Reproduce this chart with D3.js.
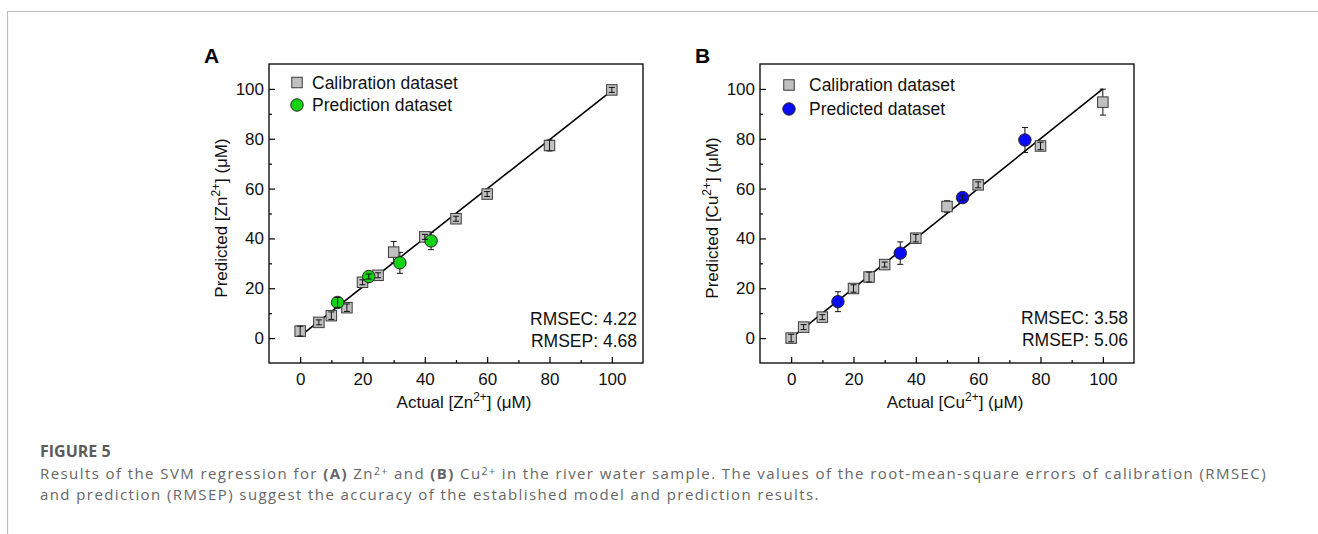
<!doctype html>
<html lang="en">
<head>
<meta charset="utf-8">
<title>Figure 5 - SVM regression</title>
<style>
  body { margin: 0; background: #fff; }
  svg { display: block; }
</style>
</head>
<body>
<svg width="1318" height="534"></svg>
<script src="https://cdn.jsdelivr.net/npm/d3@7/dist/d3.min.js"></script>
<script>
// ---- data ----
// panel A: Zn2+
var znCalX   = [0, 6, 10, 15, 20, 25, 30, 40, 50, 60, 80, 100];
var znCalY   = [2.8, 6.3, 9.0, 12.2, 22.4, 25.2, 34.5, 40.6, 47.9, 57.8, 77.3, 99.6];
var znCalErr = [2, 1, 1.5, 1.5, 1, 1, 4.3, 1, 1, 1, 2.2, 1];
var znPreX   = [12, 22, 32, 42];
var znPreY   = [14.3, 24.7, 30.2, 39.0];
var znPreErr = [2, 1, 4.2, 3.5];
var znFit    = [0.8, 0.985];          // intercept, slope
var znStats  = ['RMSEC: 4.22', 'RMSEP: 4.68'];

// panel B: Cu2+
var cuCalX   = [0, 4, 10, 20, 25, 30, 40, 50, 60, 80, 100];
var cuCalY   = [0, 4.4, 8.4, 19.9, 24.5, 29.5, 40.1, 52.8, 61.5, 77.1, 94.7];
var cuCalErr = [1.5, 1, 1, 1.5, 2, 1, 1.5, 2.3, 1.2, 1.5, 5.2];
var cuPreX   = [15, 35, 55, 75];
var cuPreY   = [14.6, 34.1, 56.4, 79.5];
var cuPreErr = [4, 4.5, 1, 5];
var cuFit    = [0, 1];
var cuStats  = ['RMSEC: 3.58', 'RMSEP: 5.06'];

var majorTicks = [0, 20, 40, 60, 80, 100];
var minorTicks = [10, 30, 50, 70, 90];
var axisDomain = [-10, 110];

var svg = d3.select('svg');
var FONT = '"Liberation Sans", Arial, Helvetica, sans-serif';

svg.append('rect').attr('width', 1318).attr('height', 534).attr('fill', '#fff');

// thin page border (top and left)
svg.append('path')
  .attr('d', 'M7.5,534 V11.5 H1318')
  .attr('fill', 'none')
  .attr('stroke', '#bdbdbd')
  .attr('stroke-width', 1.2);

// text with superscripts / bold parts
function richText(sel, parts, size, rise) {
  var shift = size * (rise || 0.4);
  var up = false;
  parts.forEach(function (p) {
    var t = sel.append('tspan').text(p.t);
    if (p.sup) {
      t.attr('font-size', size * 0.7).attr('dy', -shift);
      up = true;
    } else if (up) {
      t.attr('dy', shift);
      up = false;
    }
    if (p.bold) t.attr('font-weight', 'bold');
  });
  return sel;
}

function drawPanel(cfg) {
  var x = d3.scaleLinear().domain(axisDomain).range([cfg.left, cfg.right]);
  var y = d3.scaleLinear().domain(axisDomain).range([cfg.bottom, cfg.top]);
  var g = svg.append('g').attr('font-family', FONT);

  // panel letter
  g.append('text')
    .attr('x', cfg.left - 65).attr('y', 62.5)
    .attr('font-size', 21).attr('font-weight', 'bold')
    .text(cfg.letter);

  // fit line
  var fitLine = d3.line().x(d => x(d)).y(d => y(cfg.fit[0] + cfg.fit[1] * d));
  g.append('path')
    .datum([0, 100])
    .attr('d', fitLine)
    .attr('fill', 'none')
    .attr('stroke', '#000')
    .attr('stroke-width', 1.6);

  var pxPerUnit = (cfg.bottom - cfg.top) / (axisDomain[1] - axisDomain[0]);

  function errorBars(layer, xs, ys, es) {
    var bars = layer.selectAll(null).data(xs.map((v, i) => ({x: v, y: ys[i], e: es[i]}))).enter().append('g')
      .attr('stroke', '#111').attr('stroke-width', 1).attr('fill', 'none');
    bars.append('line')
      .attr('x1', d => x(d.x)).attr('x2', d => x(d.x))
      .attr('y1', d => y(d.y - d.e)).attr('y2', d => y(d.y + d.e));
    bars.append('line')
      .attr('x1', d => x(d.x) - 3).attr('x2', d => x(d.x) + 3)
      .attr('y1', d => y(d.y + d.e)).attr('y2', d => y(d.y + d.e));
    bars.append('line')
      .attr('x1', d => x(d.x) - 3).attr('x2', d => x(d.x) + 3)
      .attr('y1', d => y(d.y - d.e)).attr('y2', d => y(d.y - d.e));
  }

  // split error bars: big ones behind markers, small ones (inside marker) on top
  function split(xs, ys, es, limit, small) {
    var ox = [], oy = [], oe = [];
    xs.forEach(function (v, i) {
      var isSmall = es[i] * pxPerUnit < limit;
      if (isSmall === small) { ox.push(v); oy.push(ys[i]); oe.push(es[i]); }
    });
    return [ox, oy, oe];
  }

  var back = g.append('g');
  var marks = g.append('g');
  var front = g.append('g');

  var cb = split(cfg.calX, cfg.calY, cfg.calErr, 5.5, false);
  var pb = split(cfg.preX, cfg.preY, cfg.preErr, 6.5, false);
  errorBars(back, cb[0], cb[1], cb[2]);
  errorBars(back, pb[0], pb[1], pb[2]);

  var sq = 10.5;
  marks.selectAll('rect').data(cfg.calX).enter()
    .append('rect')
    .attr('x', d => x(d) - sq / 2)
    .attr('y', (d, i) => y(cfg.calY[i]) - sq / 2)
    .attr('width', sq).attr('height', sq)
    .attr('fill', '#c0c0c0')
    .attr('stroke', '#3a3a3a')
    .attr('stroke-width', 1);

  marks.selectAll('circle').data(cfg.preX).enter()
    .append('circle')
    .attr('cx', d => x(d))
    .attr('cy', (d, i) => y(cfg.preY[i]))
    .attr('r', 6.2)
    .attr('fill', cfg.color)
    .attr('stroke', '#222')
    .attr('stroke-width', 1);

  var cf = split(cfg.calX, cfg.calY, cfg.calErr, 5.5, true);
  var pf = split(cfg.preX, cfg.preY, cfg.preErr, 6.5, true);
  errorBars(front, cf[0], cf[1], cf[2]);
  errorBars(front, pf[0], pf[1], pf[2]);

  // axes, ticks pointing inward
  var xAxis = d3.axisBottom(x).tickValues(majorTicks).tickSizeInner(-6).tickSizeOuter(0).tickPadding(10);
  var yAxis = d3.axisLeft(y).tickValues(majorTicks).tickSizeInner(-6).tickSizeOuter(0).tickPadding(5);
  var gx = g.append('g').attr('transform', 'translate(0,' + cfg.bottom + ')').call(xAxis);
  var gy = g.append('g').attr('transform', 'translate(' + cfg.left + ',0)').call(yAxis);
  var gxm = g.append('g').attr('transform', 'translate(0,' + cfg.bottom + ')')
    .call(d3.axisBottom(x).tickValues(minorTicks).tickSizeInner(-3).tickSizeOuter(0).tickFormat(''));
  var gym = g.append('g').attr('transform', 'translate(' + cfg.left + ',0)')
    .call(d3.axisLeft(y).tickValues(minorTicks).tickSizeInner(-3).tickSizeOuter(0).tickFormat(''));
  [gx, gy, gxm, gym].forEach(function (a) {
    a.select('.domain').remove();
    a.selectAll('line').attr('stroke', '#000').attr('stroke-width', 1.2);
    a.selectAll('text').attr('font-family', FONT).attr('font-size', 17).attr('fill', '#111');
  });

  // frame
  g.append('rect')
    .attr('x', cfg.left).attr('y', cfg.top)
    .attr('width', cfg.right - cfg.left).attr('height', cfg.bottom - cfg.top)
    .attr('fill', 'none').attr('stroke', '#000').attr('stroke-width', 1.3);

  // axis titles
  richText(g.append('text')
    .attr('x', (cfg.left + cfg.right) / 2 + 8).attr('y', 407.5)
    .attr('text-anchor', 'middle').attr('font-size', 17).attr('fill', '#111'),
    [{t: 'Actual [' + cfg.ion}, {t: '2+', sup: true}, {t: '] (μM)'}], 17);

  richText(g.append('text')
    .attr('transform', 'translate(' + (cfg.left - 42) + ',218) rotate(-90)')
    .attr('text-anchor', 'middle').attr('font-size', 17).attr('fill', '#111'),
    [{t: 'Predicted [' + cfg.ion}, {t: '2+', sup: true}, {t: '] (μM)'}], 17);

  // legend
  var lg = g.append('g');
  lg.append('rect')
    .attr('x', cfg.legX - sq / 2).attr('y', cfg.legY[0] - sq / 2)
    .attr('width', sq).attr('height', sq)
    .attr('fill', '#c0c0c0').attr('stroke', '#3a3a3a').attr('stroke-width', 1);
  lg.append('circle')
    .attr('cx', cfg.legX).attr('cy', cfg.legY[1]).attr('r', 6.2)
    .attr('fill', cfg.color).attr('stroke', '#222').attr('stroke-width', 1);
  lg.selectAll('text').data(cfg.legend).enter()
    .append('text')
    .attr('x', cfg.legTextX)
    .attr('y', (d, i) => cfg.legY[i] + 6)
    .attr('font-size', 17.5).attr('fill', '#111')
    .text(d => d);

  // stats
  g.selectAll('.stat').data(cfg.stats).enter()
    .append('text')
    .attr('class', 'stat')
    .attr('x', cfg.right - 6)
    .attr('y', (d, i) => cfg.statY + i * 22)
    .attr('text-anchor', 'end')
    .attr('font-size', 17.5).attr('fill', '#111')
    .text(d => d);
}

drawPanel({
  letter: 'A', ion: 'Zn', color: '#14d314',
  left: 269, right: 643, top: 64, bottom: 363,
  calX: znCalX, calY: znCalY, calErr: znCalErr,
  preX: znPreX, preY: znPreY, preErr: znPreErr,
  fit: znFit, stats: znStats, statY: 325,
  legend: ['Calibration dataset', 'Prediction dataset'],
  legX: 297, legY: [82.5, 105], legTextX: 312
});

drawPanel({
  letter: 'B', ion: 'Cu', color: '#0a0af5',
  left: 760, right: 1134, top: 64, bottom: 363,
  calX: cuCalX, calY: cuCalY, calErr: cuCalErr,
  preX: cuPreX, preY: cuPreY, preErr: cuPreErr,
  fit: cuFit, stats: cuStats, statY: 323.5,
  legend: ['Calibration dataset', 'Predicted dataset'],
  legX: 789, legY: [85, 109], legTextX: 809
});

// ---- caption ----
var CAP = '"Open Sans", "Noto Sans", sans-serif';
svg.append('text')
  .attr('x', 40).attr('y', 457)
  .attr('font-family', CAP).attr('font-size', 16).attr('font-weight', 'bold')
  .attr('fill', '#5c5c5c')
  .text('FIGURE 5');

var capSize = 15;
var line1 = richText(svg.append('text')
  .attr('x', 40).attr('y', 479)
  .attr('font-family', CAP).attr('font-size', capSize).attr('fill', '#666'),
  [{t: 'Results of the SVM regression for '}, {t: '(A)', bold: true}, {t: ' Zn'}, {t: '2+', sup: true},
   {t: ' and '}, {t: '(B)', bold: true}, {t: ' Cu'}, {t: '2+', sup: true},
   {t: ' in the river water sample. The values of the root-mean-square errors of calibration (RMSEC)'}], capSize, 0.3);

var line2 = svg.append('text')
  .attr('x', 40).attr('y', 500)
  .attr('font-family', CAP).attr('font-size', capSize).attr('fill', '#666')
  .text('and prediction (RMSEP) suggest the accuracy of the established model and prediction results.');

// fit the first caption line to the figure width with a small letter spacing
var target = 1267 - 40;
var w = line1.node().getComputedTextLength();
var ls = (target - w) / line1.text().length;
line1.attr('letter-spacing', ls);
line2.attr('letter-spacing', ls);
</script>
</body>
</html>
